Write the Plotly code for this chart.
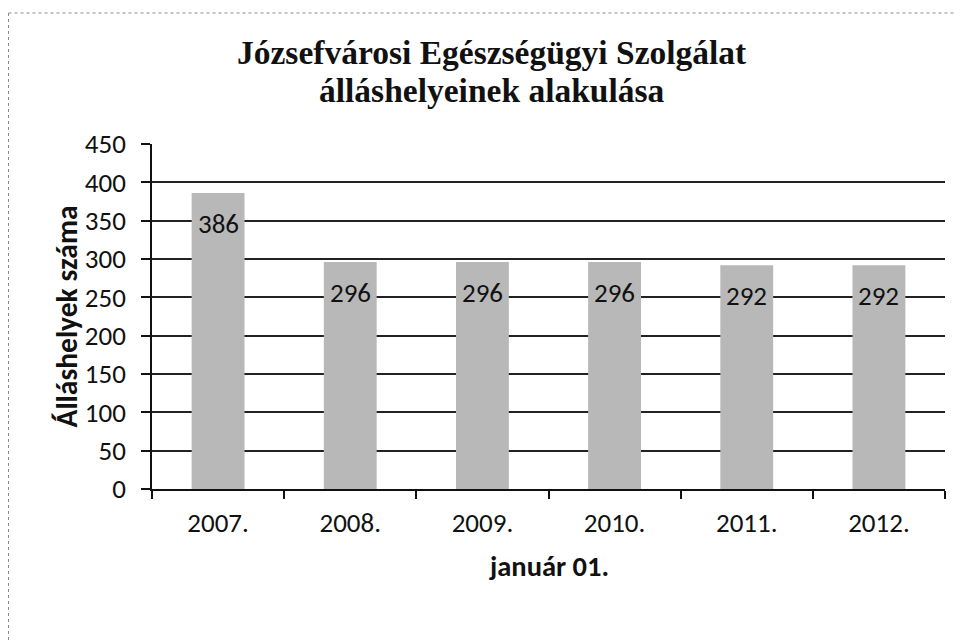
import plotly.graph_objects as go

# ---- data ----
categories = ["2007.", "2008.", "2009.", "2010.", "2011.", "2012."]
values = [386, 296, 296, 296, 292, 292]
y_ticks = [0, 50, 100, 150, 200, 250, 300, 350, 400, 450]
title_line1 = "Józsefvárosi Egészségügyi Szolgálat"
title_line2 = "álláshelyeinek alakulása"
x_title = "január 01."
y_title = "Álláshelyek száma"

# the page body has an 8px margin, so the figure is 8px smaller and all
# reference pixel positions are shifted by that offset
OFF = 8
W, H = 964 - OFF, 642 - OFF
L = 152 - OFF
T = 144 - OFF
B = H - (489 - OFF)
R = W - (945 - OFF)
PW, PH = W - L - R, H - T - B


def px_x(px):
    return (px - OFF - L) / PW


def px_y(py):
    return (H - B - (py - OFF)) / PH


SANS = "Carlito, Calibri, Lato, sans-serif"
SERIF = "Times New Roman, Liberation Serif, serif"

fig = go.Figure()
fig.add_trace(go.Bar(
    x=categories, y=values,
    marker=dict(color="#b8b8b8", line=dict(width=0)),
    hoverinfo="x+y",
))

annotations = []
for i, v in enumerate(values):
    annotations.append(dict(
        x=i, y=v, xref="x", yref="y", text=str(v), showarrow=False,
        yanchor="top", yshift=-12, font=dict(family=SANS, size=27, color="#111"),
    ))

annotations += [
    dict(x=px_x(492), y=px_y(52), xref="paper", yref="paper", text=f"<b>{title_line1}</b>",
         showarrow=False, xanchor="center", yanchor="middle",
         font=dict(family=SERIF, size=33.5, color="#111")),
    dict(x=px_x(492), y=px_y(90), xref="paper", yref="paper", text=f"<b>{title_line2}</b>",
         showarrow=False, xanchor="center", yanchor="middle",
         font=dict(family=SERIF, size=33.5, color="#111")),
    dict(x=0.5, y=px_y(566), xref="paper", yref="paper", text=f"<b>{x_title}</b>",
         showarrow=False, xanchor="center", yanchor="middle",
         font=dict(family=SANS, size=28.5, color="#111")),
    dict(x=px_x(66), y=0.5, xref="paper", yref="paper", text=f"<b>{y_title}</b>",
         showarrow=False, xanchor="center", yanchor="middle", textangle=-90,
         font=dict(family=SANS, size=29.5, color="#111")),
]

shapes = [
    dict(type="line", xref="paper", yref="paper", x0=px_x(8.5), y0=px_y(13), x1=px_x(966), y1=px_y(13),
         line=dict(color="#8a8a8a", width=1, dash="dot")),
    dict(type="line", xref="paper", yref="paper", x0=px_x(8.5), y0=px_y(13), x1=px_x(8.5), y1=px_y(645),
         line=dict(color="#8a8a8a", width=1, dash="dot")),
]

fig.update_layout(
    width=W, height=H,
    margin=dict(l=L, r=R, t=T, b=B, autoexpand=False),
    paper_bgcolor="white", plot_bgcolor="white",
    showlegend=False,
    bargap=0.6,
    annotations=annotations,
    shapes=shapes,
    xaxis=dict(
        type="category", tickson="boundaries", ticks="outside", ticklen=8,
        tickcolor="#111", tickwidth=1.5,
        showline=True, linecolor="#111", linewidth=1.5,
        showgrid=False, ticklabelstandoff=9, tickangle=0,
        tickfont=dict(family=SANS, size=27, color="#111"),
        automargin=False,
    ),
    yaxis=dict(
        range=[0, 450], tickvals=y_ticks, ticktext=[str(t) for t in y_ticks],
        ticks="outside", ticklen=9, tickcolor="#111", tickwidth=1.5,
        showline=True, linecolor="#111", linewidth=1.5,
        showgrid=True, gridcolor="#222", gridwidth=1.5, zeroline=False,
        ticklabelstandoff=10,
        tickfont=dict(family=SANS, size=27, color="#111"),
        automargin=False,
    ),
)

fig.write_html("out.html")
